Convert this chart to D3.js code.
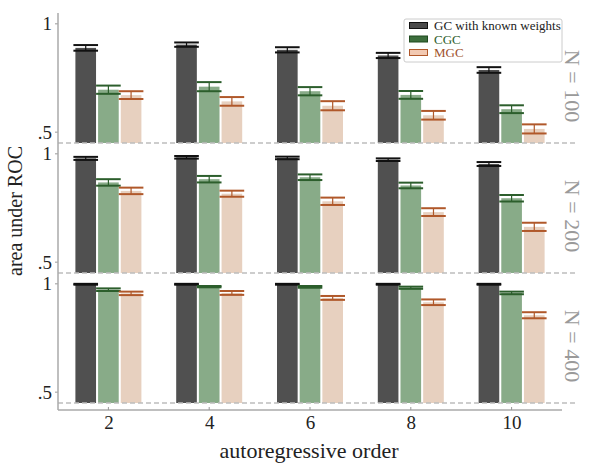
<!DOCTYPE html>
<html>
<head>
<meta charset="utf-8">
<script src="https://cdn.jsdelivr.net/npm/d3@7"></script>
<style>
  html, body { margin: 0; padding: 0; background: #fff; }
  svg { display: block; }
  text { font-family: "Liberation Serif", "DejaVu Serif", serif; }
</style>
</head>
<body>
<svg id="chart" width="600" height="468"></svg>
<script>
// ---------------- data ----------------
const orders = [2, 4, 6, 8, 10];
const seriesNames = ["GC with known weights", "CGC", "MGC"];
const panelLabels = ["N = 100", "N = 200", "N = 400"];
const yTickValues = [0.5, 1];
const yTickLabels = [".5", "1"];
const xTickValues = [2, 4, 6, 8, 10];

// mean AUC per panel (N = 100, 200, 400) and order
const gcMean = [
  [0.889, 0.904, 0.880, 0.854, 0.787],
  [0.979, 0.984, 0.981, 0.973, 0.953],
  [0.998, 0.998, 0.998, 0.998, 0.998]
];
const gcErr = [
  [0.013, 0.010, 0.012, 0.012, 0.013],
  [0.007, 0.006, 0.006, 0.006, 0.009],
  [0.002, 0.002, 0.002, 0.002, 0.002]
];
const cgcMean = [
  [0.696, 0.710, 0.689, 0.672, 0.606],
  [0.868, 0.883, 0.892, 0.854, 0.795],
  [0.973, 0.987, 0.986, 0.982, 0.958]
];
const cgcErr = [
  [0.019, 0.021, 0.019, 0.018, 0.018],
  [0.015, 0.015, 0.013, 0.013, 0.015],
  [0.006, 0.003, 0.004, 0.005, 0.006]
];
const mgcMean = [
  [0.671, 0.642, 0.622, 0.578, 0.515],
  [0.829, 0.816, 0.781, 0.731, 0.663],
  [0.956, 0.958, 0.935, 0.915, 0.855]
];
const mgcErr = [
  [0.018, 0.020, 0.021, 0.020, 0.021],
  [0.015, 0.014, 0.017, 0.018, 0.019],
  [0.008, 0.009, 0.009, 0.013, 0.014]
];

const seriesFill = ["#505050", "#88ab88", "#e7d0bf"];
const seriesErrColor = ["#111111", "#2c5e2c", "#b0582a"];
const legendFill = ["#4a4a4a", "#3d6e3d", "#f2c9b2"];
const legendEdge = ["#111111", "#1f4a1f", "#b0582a"];
const legendTextColor = ["#222222", "#2c5e2c", "#a0522d"];

// ---------------- layout ----------------
const svg = d3.select("#chart");
const left = 58, right = 562;
const panelTop = 13, panelH = 130, nPanels = 3;
const axisY = 410;

const x = d3.scaleLinear().domain([1, 11]).range([left, right]);
const band = d3.scaleBand().domain(seriesNames).range([-33, 33]).paddingInner(0.09);
const bw = band.bandwidth();
const capW = bw + 4;

const means = [gcMean, cgcMean, mgcMean];
const errs = [gcErr, cgcErr, mgcErr];

for (let p = 0; p < nPanels; p++) {
  const top = panelTop + p * panelH;
  const y = d3.scaleLinear().domain([0.45, 1.05]).range([top + panelH, top]);
  const g = svg.append("g");

  // bars
  seriesNames.forEach((s, si) => {
    const data = orders.map((o, oi) => ({ o, m: means[si][p][oi], e: errs[si][p][oi] }));
    g.selectAll(null).data(data).enter().append("rect")
      .attr("x", d => x(d.o) + band(s))
      .attr("width", bw)
      .attr("y", d => y(d.m))
      .attr("height", d => y(0.45) - y(d.m))
      .attr("fill", seriesFill[si]);
  });
  // error bars
  seriesNames.forEach((s, si) => {
    const data = orders.map((o, oi) => ({ o, m: means[si][p][oi], e: errs[si][p][oi] }));
    const eg = g.selectAll(null).data(data).enter().append("g")
      .attr("transform", d => `translate(${x(d.o) + band(s) + bw / 2},0)`);
    eg.append("line")
      .attr("x1", 0).attr("x2", 0)
      .attr("y1", d => y(d.m + d.e)).attr("y2", d => y(d.m - d.e))
      .attr("stroke", seriesErrColor[si]).attr("stroke-width", 1.2);
    [1, -1].forEach(sign => {
      eg.append("line")
        .attr("x1", -capW / 2).attr("x2", capW / 2)
        .attr("y1", d => y(d.m + sign * d.e)).attr("y2", d => y(d.m + sign * d.e))
        .attr("stroke", seriesErrColor[si]).attr("stroke-width", 2);
    });
  });

  // dashed baseline
  g.append("line")
    .attr("x1", left).attr("x2", 578)
    .attr("y1", y(0.45)).attr("y2", y(0.45))
    .attr("stroke", "#bdbdbd").attr("stroke-width", 1.6)
    .attr("stroke-dasharray", "5,3");

  // y ticks
  yTickValues.forEach((v, i) => {
    g.append("line").attr("x1", left - 3).attr("x2", left)
      .attr("y1", y(v)).attr("y2", y(v)).attr("stroke", "#999").attr("stroke-width", 1);
    g.append("text").attr("x", left - 6).attr("y", y(v))
      .attr("dy", "0.35em").attr("text-anchor", "end")
      .attr("font-size", 19).attr("fill", "#222").text(yTickLabels[i]);
  });

  // panel label
  const cy = top + panelH / 2 + 8;
  g.append("text")
    .attr("transform", `translate(573,${cy}) rotate(90)`)
    .attr("text-anchor", "middle").attr("dy", "0.35em")
    .attr("font-size", 22).attr("fill", "#9a9a9a")
    .text(panelLabels[p]);
}

// left axis line
svg.append("line").attr("x1", left).attr("x2", left)
  .attr("y1", panelTop).attr("y2", axisY)
  .attr("stroke", "#aaaaaa").attr("stroke-width", 1.5);
// bottom axis
const xAxis = d3.axisBottom(x).tickValues(xTickValues).tickSize(0).tickPadding(6);
const xg = svg.append("g").attr("transform", `translate(0,${axisY})`).call(xAxis);
xg.select(".domain").remove();
xg.selectAll("text").attr("font-size", 19).attr("fill", "#222")
  .attr("font-family", "Liberation Serif, DejaVu Serif, serif");
svg.append("line").attr("x1", left).attr("x2", right)
  .attr("y1", axisY).attr("y2", axisY)
  .attr("stroke", "#aaaaaa").attr("stroke-width", 1.5);
xTickValues.forEach(v => {
  svg.append("line").attr("x1", x(v)).attr("x2", x(v))
    .attr("y1", axisY - 3).attr("y2", axisY).attr("stroke", "#999");
});

// axis labels
svg.append("text").attr("x", 309).attr("y", 458)
  .attr("text-anchor", "middle").attr("font-size", 22).attr("fill", "#222")
  .text("autoregressive order");
svg.append("text")
  .attr("transform", "translate(22,211) rotate(-90)")
  .attr("text-anchor", "middle").attr("font-size", 20).attr("fill", "#222")
  .text("area under ROC");

// legend
const lg = svg.append("g");
lg.append("rect").attr("x", 404).attr("y", 19).attr("width", 158).attr("height", 43)
  .attr("rx", 2).attr("fill", "#fff").attr("stroke", "#cccccc").attr("stroke-width", 1);
seriesNames.forEach((s, i) => {
  const ry = 25.5 + i * 13.5;
  lg.append("rect").attr("x", 409.5).attr("y", ry - 3).attr("width", 18).attr("height", 6)
    .attr("fill", legendFill[i]).attr("stroke", legendEdge[i]).attr("stroke-width", 1);
  lg.append("text").attr("x", 434).attr("y", ry).attr("dy", "0.35em")
    .attr("font-size", 13).attr("fill", legendTextColor[i]).text(s);
});
</script>
</body>
</html>
